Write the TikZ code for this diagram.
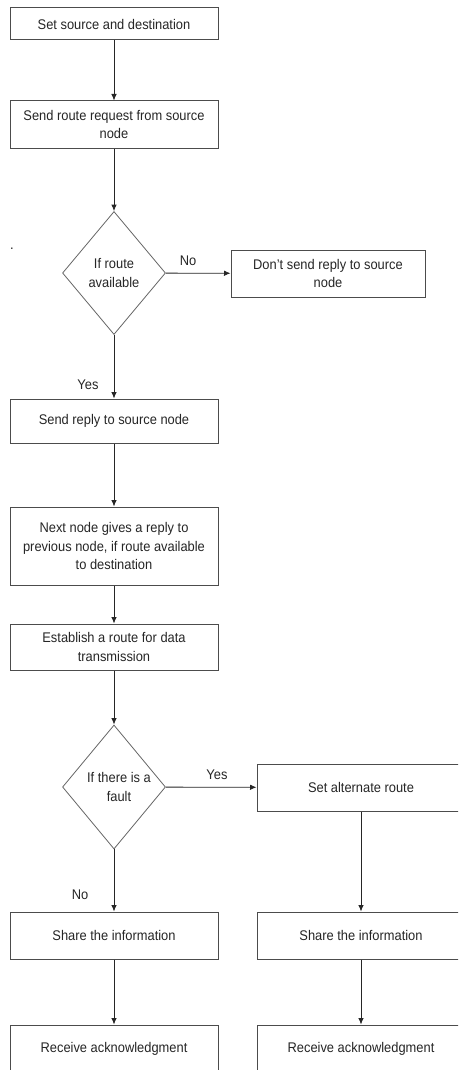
\documentclass[tikz,border=0pt]{standalone}
\usepackage{fontspec}
\setmainfont{Liberation Sans}[FakeStretch=0.92]
\usetikzlibrary{shapes.geometric,arrows.meta}
\begin{document}
\begin{tikzpicture}[x=1pt,y=-1pt,
  font=\fontsize{14}{18.5}\selectfont,
  every node/.style={text=black!85},
  stepbox/.style={draw=black!70, line width=1pt, rectangle, align=center, inner sep=2pt,
     minimum width=#1},
  stepbox/.default=208,
  decision/.style={draw=black!60, line width=0.8pt, diamond, align=center, inner sep=0pt,
     minimum width=103, minimum height=123},
  conn/.style={draw=black!85, line width=0.8pt, -{Latex[length=6.5pt,width=5.5pt]}},
  lbl/.style={inner sep=0pt}
]
\useasboundingbox (0,0) rectangle (458,1070);
\clip (0,0) rectangle (458,1070);
\fill[white] (0,0) rectangle (458,1070);

\node[stepbox, minimum height=32] (b1) at (114,24) {Set source and destination};
\node[stepbox, minimum height=47] (b2) at (114,124.5) {Send route request from source\\node};
\node[decision] (d1) at (114,273) {If route\\available};
\node[stepbox=194, minimum height=47] (b3) at (328,273.5) {Don’t send reply to source\\node};
\node[stepbox, minimum height=44] (b4) at (114,421) {Send reply to source node};
\node[stepbox, minimum height=78] (b5) at (114,546) {Next node gives a reply to\\previous node, if route available\\to destination};
\node[stepbox, minimum height=46] (b6) at (114,647) {Establish a route for data\\transmission};
\node[decision, minimum height=124] (d2) at (114,787) {\hspace*{10pt}If there is a\\\hspace*{10pt}fault};
\node[stepbox, minimum height=47] (b7) at (361,787.5) {Set alternate route};
\node[stepbox, minimum height=47] (b8) at (114,935.5) {Share the information};
\node[stepbox, minimum height=47] (b9) at (361,935.5) {Share the information};
\node[stepbox, minimum height=47] (b10) at (114,1048.5) {Receive acknowledgment};
\node[stepbox, minimum height=47] (b11) at (361,1048.5) {Receive acknowledgment};

\node[lbl] (dot) at (12,249) {.};
\node[lbl] (lno1) at (188,261) {No};
\node[lbl] (lyes1) at (88,385) {Yes};
\node[lbl] (lyes2) at (217,775) {Yes};
\node[lbl] (lno2) at (80,895) {No};

\draw[conn] (b1) -- (b2);
\draw[conn] (b2) -- (d1);
\draw[conn] (d1) -- (b3);
\draw[conn] (d1) -- (b4);
\draw[conn] (b4) -- (b5);
\draw[conn] (b5) -- (b6);
\draw[conn] (b6) -- (d2);
\draw[conn] (d2) -- (b7);
\draw[conn] (d2) -- (b8);
\draw[conn] (b7) -- (b9);
\draw[conn] (b8) -- (b10);
\draw[conn] (b9) -- (b11);
\end{tikzpicture}
\end{document}
